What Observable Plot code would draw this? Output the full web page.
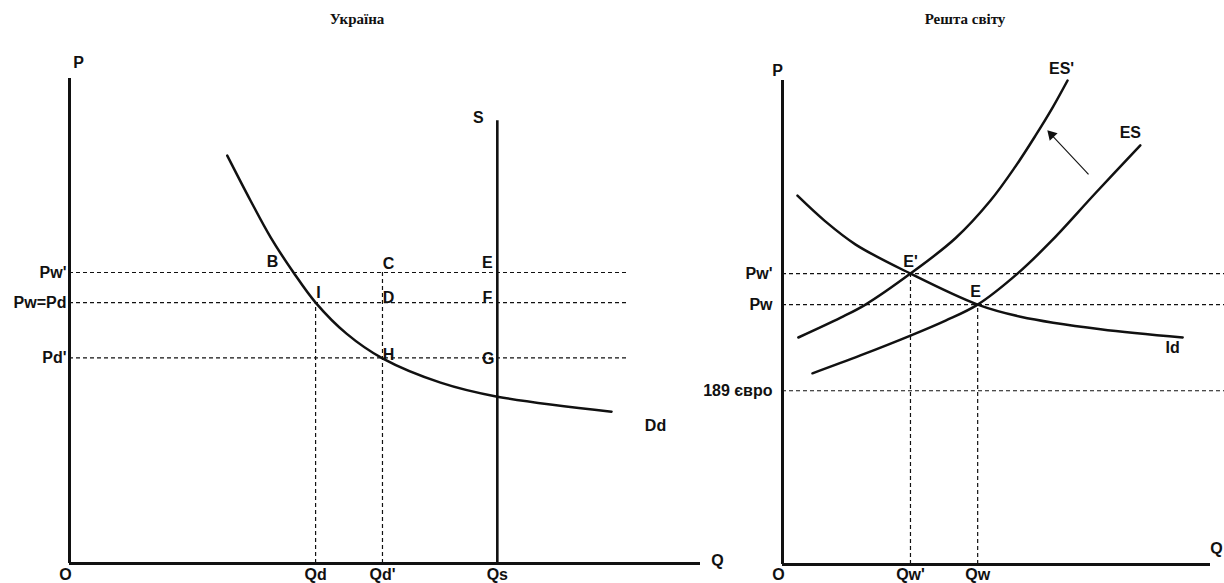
<!DOCTYPE html>
<html><head><meta charset="utf-8">
<script src="https://cdn.jsdelivr.net/npm/d3@7"></script>
<script src="https://cdn.jsdelivr.net/npm/@observablehq/plot@0.6"></script>
<style>
body{margin:0;background:#fff;}
#wrap{position:relative;width:1224px;height:583px;overflow:hidden;background:#fff;}
.title{position:absolute;top:11px;font:bold 15px "Liberation Serif","DejaVu Serif",serif;transform:translateX(-50%);white-space:nowrap;color:#111;}
#left,#right{position:absolute;top:0;}
#left{left:0}
#right{left:740px}
</style></head>
<body><div id="wrap">
<div class="title" id="t1" style="left:357px"></div>
<div class="title" id="t2" style="left:965px"></div>
<div id="left"></div><div id="right"></div></div>
<script>
// ---------- data: left panel (Україна) ----------
const leftTitle = "Україна";
const leftPriceLabels = ["Pw'", "Pw=Pd", "Pd'"];
const leftPrices = [60.0, 53.8, 42.4];
const leftQtyLabels = ["Qd", "Qd'", "Qs"];
const leftQtys = [39.0, 49.6, 67.8];
const leftGuideTops = [53.8, 60.0];      // Qd up to Pw, Qd' up to Pw'
const supplyQ = 67.8, supplyTop = 91.3;
const demandQ = [25.0, 28.7, 31.9, 35.5, 39.0, 43.9, 49.6, 58.8, 67.8, 85.9];
const demandP = [84.1, 74.8, 67.2, 60.0, 53.8, 47.4, 42.3, 37.3, 34.4, 31.3];
const leftPointLabels = ["B", "C", "E", "I", "D", "F", "H", "G"];
const leftPointQ = [35.5, 49.6, 67.8, 39.0, 49.6, 67.8, 49.6, 67.8];
const leftPointP = [60.0, 60.0, 60.0, 53.8, 53.8, 53.8, 42.4, 42.4];
const leftGuideEnd = 88.4;

// ---------- data: right panel (Решта світу) ----------
const rightTitle = "Решта світу";
const rightPriceLabels = ["Pw'", "Pw", "189 євро"];
const rightPrices = [60.1, 53.7, 35.9];
const rightQtyLabels = ["Qw'", "Qw"];
const rightQtys = [29.9, 45.6];
const rightGuideTops = [60.1, 53.7];
const esPrimeQ = [3.7, 13.6, 19.4, 29.9, 40.4, 48.6, 54.4, 59.1, 63.1, 66.6];
const esPrimeP = [46.9, 51.0, 53.7, 60.1, 67.4, 75.2, 82.2, 88.6, 94.4, 100.0];
const esQ = [7.0, 18.2, 29.9, 38.1, 45.6, 54.9, 62.9, 73.1, 83.6];
const esP = [39.5, 43.2, 47.3, 50.4, 53.7, 60.1, 66.9, 76.7, 86.6];
const idQ = [3.5, 10.0, 17.1, 29.9, 45.6, 55.6, 74.3, 93.5];
const idP = [76.2, 70.9, 66.1, 60.1, 53.7, 51.2, 48.6, 46.9];
const rightPointLabels = ["E'", "E"];
const rightPointQ = [29.9, 45.6];
const rightPointP = [60.1, 53.7];
const shiftFrom = [71.5, 80.6];
const shiftTo = [61.9, 89.7];
const rightGuideEnd = 103.5;

// ---------- styling (offsets in px) ----------
const FONT = "'Liberation Sans', Arial, Helvetica, sans-serif";
const leftOffsets = {B:[-21,-11], C:[6,-9], E:[-10,-10], I:[3,-10], D:[6,-5], F:[-10,-5], H:[6,-3], G:[-9,1]};
const rightOffsets = {"E'":[0,-12], "E":[-2,-13]};
const dash = "4,3";

document.getElementById("t1").textContent = leftTitle;
document.getElementById("t2").textContent = rightTitle;

const zip = (xs, ys) => xs.map((x, i) => ({x, y: ys[i]}));
const txt = (x, y, t, dx, dy, anchor = "middle") =>
  Plot.text([{x, y, t}], {x: "x", y: "y", text: "t", dx, dy, textAnchor: anchor});
const baseStyle = {fontFamily: FONT, fontSize: "16px", fontWeight: "bold", background: "transparent", overflow: "visible", color: "#111"};

// ---------- left plot ----------
const demand = zip(demandQ, demandP);
const leftPts = leftPointLabels.map((l, i) => ({l, x: leftPointQ[i], y: leftPointP[i]}));
const left = Plot.plot({
  width: 740, height: 583,
  marginLeft: 69, marginRight: 40, marginTop: 78, marginBottom: 20,
  x: {domain: [0, 100], axis: null},
  y: {domain: [0, 100], axis: null},
  style: baseStyle,
  marks: [
    Plot.ruleY(leftPrices, {y: d => d, x1: 0, x2: leftGuideEnd, strokeDasharray: dash, strokeWidth: 1.2}),
    Plot.ruleX(leftQtys.slice(0, 2), {x: d => d, y1: 0, y2: (d, i) => leftGuideTops[i], strokeDasharray: dash, strokeWidth: 1.2}),
    Plot.ruleX([supplyQ], {x: d => d, y1: 0, y2: supplyTop, strokeWidth: 2.6}),
    Plot.line(demand, {x: "x", y: "y", curve: "catmull-rom", strokeWidth: 2.5}),
    Plot.ruleX([0], {y1: 0, y2: 100, strokeWidth: 3}),
    Plot.ruleY([0], {x1: 0, x2: 100, strokeWidth: 3}),
    Plot.text(leftPrices, {x: 0, y: d => d, text: (d, i) => leftPriceLabels[i], textAnchor: "end", dx: -3}),
    Plot.text(leftQtys, {x: d => d, y: 0, text: (d, i) => leftQtyLabels[i], dy: 11}),
    ...leftPts.map(p => txt(p.x, p.y, p.l, leftOffsets[p.l][0], leftOffsets[p.l][1])),
    txt(0, 100, "P", 9, -16),
    txt(100, 0, "Q", 17, -3),
    txt(0, 0, "O", -4, 11),
    txt(supplyQ, supplyTop, "S", -19, -3),
    txt(demandQ[demandQ.length - 1], demandP[demandP.length - 1], "Dd", 44, 14)
  ]
});
document.getElementById("left").appendChild(left);

// ---------- right plot ----------
const esPrime = zip(esPrimeQ, esPrimeP);
const es = zip(esQ, esP);
const id = zip(idQ, idP);
const rightPts = rightPointLabels.map((l, i) => ({l, x: rightPointQ[i], y: rightPointP[i]}));
const frac = 0.1;
const head = {x: shiftTo[0] + frac * (shiftFrom[0] - shiftTo[0]), y: shiftTo[1] + frac * (shiftFrom[1] - shiftTo[1])};
const sdx = (shiftTo[0] - shiftFrom[0]) * 4.28, sdy = -(shiftTo[1] - shiftFrom[1]) * 4.84;
const rot = Math.atan2(sdx, -sdy) * 180 / Math.PI;
const right = Plot.plot({
  width: 484, height: 583,
  marginLeft: 42, marginRight: 14, marginTop: 80, marginBottom: 19,
  x: {domain: [0, 100], axis: null},
  y: {domain: [0, 100], axis: null},
  style: baseStyle,
  marks: [
    Plot.ruleY(rightPrices, {y: d => d, x1: 0, x2: rightGuideEnd, strokeDasharray: dash, strokeWidth: 1.2}),
    Plot.ruleX(rightQtys, {x: d => d, y1: 0, y2: (d, i) => rightGuideTops[i], strokeDasharray: dash, strokeWidth: 1.2}),
    Plot.line(esPrime, {x: "x", y: "y", curve: "catmull-rom", strokeWidth: 2.5}),
    Plot.line(es, {x: "x", y: "y", curve: "catmull-rom", strokeWidth: 2.5}),
    Plot.line(id, {x: "x", y: "y", curve: "catmull-rom", strokeWidth: 2.5}),
    Plot.link([{x1: shiftFrom[0], y1: shiftFrom[1], x2: head.x, y2: head.y}], {x1: "x1", y1: "y1", x2: "x2", y2: "y2", strokeWidth: 1.1}),
    Plot.dot([head], {x: "x", y: "y", symbol: "triangle", r: 4, fill: "#111", stroke: "none", rotate: rot}),
    Plot.ruleX([0], {y1: 0, y2: 100, strokeWidth: 3}),
    Plot.ruleY([0], {x1: 0, x2: 100, strokeWidth: 3}),
    Plot.text(rightPrices, {x: 0, y: d => d, text: (d, i) => rightPriceLabels[i], textAnchor: "end", dx: -10}),
    Plot.text(rightQtys, {x: d => d, y: 0, text: (d, i) => rightQtyLabels[i], dy: 10}),
    ...rightPts.map(p => txt(p.x, p.y, p.l, rightOffsets[p.l][0], rightOffsets[p.l][1])),
    txt(0, 100, "P", -5, -10),
    txt(100, 0, "Q", 6, -16),
    txt(0, 0, "O", -4, 10),
    txt(esPrimeQ[esPrimeQ.length - 1], esPrimeP[esPrimeP.length - 1], "ES'", -6, -12),
    txt(esQ[esQ.length - 1], esP[esP.length - 1], "ES", -10, -12),
    txt(idQ[idQ.length - 1], idP[idP.length - 1], "Id", -10, 10)
  ]
});
document.getElementById("right").appendChild(right);
</script>
</body></html>
